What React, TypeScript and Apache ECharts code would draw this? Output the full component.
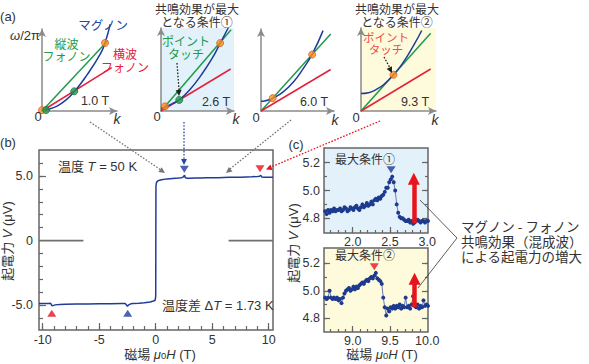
import React, { useEffect, useRef } from 'react';
import * as echarts from 'echarts';

// ---------- (a) schematic dispersions: normalized k (x) and ω/2π (y) ----------
const a1Magnon = [[0, 0.01], [0.1, 0.025], [0.2, 0.06], [0.3, 0.12], [0.43, 0.235], [0.6, 0.44], [0.78, 0.7], [0.84, 0.83], [0.91, 1.06]];
const a1Long = [[0, 0], [0.88, 0.86]];
const a1Trans = [[0, 0], [0.93, 0.53]];
const a1Orange = [[0, 0.01], [0.84, 0.83]];
const a1Green = [[0.055, 0.012], [0.43, 0.24]];

const a2Magnon = [[0, 0.03], [0.055, 0.05], [0.15, 0.085], [0.25, 0.135], [0.4, 0.263], [0.55, 0.432], [0.7, 0.634], [0.81, 0.815], [0.92, 1.0]];
const a2Long = [[0, 0], [0.96, 0.98]];
const a2Trans = [[0, 0], [0.955, 0.506]];
const a2Orange = [[0.055, 0.056], [0.81, 0.818]];
const a2Green = [[0.25, 0.133]];

const a3Magnon = [[0, 0.12], [0.05, 0.123], [0.1, 0.135], [0.16, 0.155], [0.3, 0.23], [0.45, 0.36], [0.58, 0.52], [0.7, 0.69], [0.85, 0.98]];
const a3Long = [[0, 0], [0.955, 0.94]];
const a3Trans = [[0, 0], [0.955, 0.506]];
const a3Orange = [[0.16, 0.157], [0.7, 0.688]];

const a4Magnon = [[0, 0.21], [0.1, 0.22], [0.2, 0.258], [0.3, 0.316], [0.433, 0.435], [0.55, 0.567], [0.7, 0.788], [0.81, 0.97]];
const a4Long = [[0, 0], [0.929, 0.938]];
const a4Trans = [[0, 0], [0.929, 0.506]];
const a4Orange = [[0.433, 0.437]];

// ---------- (b) voltage vs field ----------
const bField = [-10.33, -10, -9.5, -9.3, -9.2, -9.1, -8.9, -8.5, -8, -7, -6, -5, -4, -3, -2.7, -2.6, -2.5, -2.4, -2.2, -2, -1.5, -1, -0.5, -0.2, -0.05, 0, 0.02, 0.07, 0.2, 0.5, 1, 1.5, 2, 2.3, 2.45, 2.55, 2.62, 2.8, 3, 3.5, 4, 4.5, 5, 5.5, 6, 6.5, 7, 7.5, 8, 8.5, 9, 9.2, 9.3, 9.38, 9.6, 10, 10.38];
const bVoltage = [-4.86, -4.85, -4.86, -4.84, -5.0, -5.02, -4.96, -4.93, -4.92, -4.9, -4.89, -4.88, -4.87, -4.85, -4.86, -4.95, -5.08, -4.96, -4.88, -4.86, -4.84, -4.8, -4.74, -4.66, -4.6, -4.3, 4.2, 4.5, 4.62, 4.7, 4.77, 4.8, 4.83, 4.86, 4.93, 5.05, 4.85, 4.82, 4.82, 4.83, 4.84, 4.85, 4.86, 4.86, 4.88, 4.89, 4.9, 4.9, 4.92, 4.93, 4.95, 4.98, 5.05, 4.92, 4.9, 4.9, 4.89];
const bMarkDown = [[2.53, 5.52]];
const bMarkDownRed = [[9.23, 5.55]];
const bMarkUpRed = [[-9.2, -5.61]];
const bMarkUpBlue = [[-2.48, -5.61]];
const bXTicks = [-10, -9, -8, -7, -6, -5, -4, -3, -2, -1, 0, 1, 2, 3, 4, 5, 6, 7, 8, 9, 10];
const bXLabels = [-10, -5, 0, 5, 10];
const bYTicks = [-6, -5, -4, -3, -2, -1, 1, 2, 3, 4, 5, 6];
const bYLabels = [-5, 0, 5];

// ---------- (c) zoomed data ----------
const cField1 = [1.63, 1.65, 1.67, 1.69, 1.71, 1.73, 1.75, 1.77, 1.79, 1.81, 1.83, 1.85, 1.87, 1.89, 1.91, 1.93, 1.95, 1.97, 1.99, 2.01, 2.03, 2.05, 2.07, 2.09, 2.11, 2.13, 2.15, 2.17, 2.19, 2.21, 2.23, 2.25, 2.27, 2.29, 2.31, 2.33, 2.35, 2.37, 2.39, 2.41, 2.43, 2.45, 2.47, 2.49, 2.51, 2.53, 2.55, 2.57, 2.59, 2.61, 2.63, 2.65, 2.67, 2.69, 2.71, 2.73, 2.75, 2.77, 2.79, 2.81, 2.83, 2.85, 2.87, 2.89, 2.91, 2.93, 2.95, 2.97, 2.99, 3.01];
const cVolt1 = [4.85, 4.83, 4.86, 4.84, 4.86, 4.85, 4.87, 4.85, 4.86, 4.86, 4.87, 4.85, 4.86, 4.88, 4.87, 4.85, 4.86, 4.88, 4.87, 4.86, 4.88, 4.89, 4.87, 4.86, 4.88, 4.9, 4.88, 4.89, 4.91, 4.89, 4.9, 4.92, 4.9, 4.93, 4.94, 4.93, 4.95, 4.94, 4.96, 4.97, 4.99, 5.02, 5.02, 5.06, 5.08, 5.1, 5.06, 5.0, 4.9, 4.84, 4.81, 4.8, 4.8, 4.79, 4.78, 4.78, 4.79, 4.77, 4.78, 4.76, 4.77, 4.78, 4.79, 4.78, 4.77, 4.78, 4.78, 4.77, 4.78, 4.78];
const cField2 = [8.63, 8.65, 8.67, 8.69, 8.71, 8.73, 8.75, 8.77, 8.79, 8.81, 8.83, 8.85, 8.87, 8.89, 8.91, 8.93, 8.95, 8.97, 8.99, 9.01, 9.03, 9.05, 9.07, 9.09, 9.11, 9.13, 9.15, 9.17, 9.19, 9.21, 9.23, 9.25, 9.27, 9.29, 9.31, 9.33, 9.35, 9.37, 9.39, 9.41, 9.43, 9.45, 9.47, 9.49, 9.51, 9.53, 9.55, 9.57, 9.59, 9.61, 9.63, 9.65, 9.67, 9.69, 9.71, 9.73, 9.75, 9.77, 9.79, 9.81, 9.83, 9.85, 9.87, 9.89, 9.91, 9.93, 9.95, 9.97, 9.99, 10.01];
const cVolt2 = [4.95, 4.94, 4.95, 5.0, 4.95, 4.94, 4.95, 4.94, 4.95, 4.93, 4.94, 4.91, 4.95, 4.98, 5.0, 5.01, 5.02, 5.0, 5.01, 5.03, 5.01, 5.03, 5.02, 5.04, 5.05, 5.06, 5.05, 5.07, 5.08, 5.07, 5.09, 5.1, 5.09, 5.11, 5.13, 5.09, 5.08, 5.07, 5.05, 4.95, 4.88, 4.82, 4.87, 4.85, 4.88, 4.87, 4.89, 4.87, 4.89, 4.88, 4.9, 4.87, 4.89, 4.88, 4.95, 4.88, 4.89, 4.87, 4.9, 4.96, 4.89, 4.88, 4.9, 4.87, 4.89, 4.88, 4.93, 4.89, 4.9, 4.89];
const cMark1 = [[2.515, 5.15]];
const cMark2 = [[9.29, 5.175]];
const cArrow1 = [[2.82, 4.764], [2.82, 5.084]];
const cArrow2 = [[9.83, 4.88], [9.83, 5.087]];
const c1XTicks = [1.7, 1.8, 1.9, 2.0, 2.1, 2.2, 2.3, 2.4, 2.5, 2.6, 2.7, 2.8, 2.9];
const c1XLabels = [2.0, 2.5, 3.0];
const c2XTicks = [8.7, 8.8, 8.9, 9.0, 9.1, 9.2, 9.3, 9.4, 9.5, 9.6, 9.7, 9.8, 9.9];
const c2XLabels = [9.0, 9.5, 10.0];
const cYTicks = [4.8, 4.9, 5.0, 5.1, 5.2];
const cYLabels = [4.8, 5.0, 5.2];

const zip = (xs: number[], ys: number[]) => xs.map((x, i) => [x, ys[i]]);

const FONT = "'Liberation Sans', 'Noto Sans CJK JP', sans-serif";
const JP = "'Noto Sans CJK JP', sans-serif";
const AX = '#666666';
const TXT = '#333333';
const BLUE = '#1f3c98';
const GREEN = '#1f9a4c';
const RED = '#e3213a';
const ORANGE = '#f7931e';
const ARED = '#e8141c';

function subAxis(grid: number) {
  return {
    type: 'value', gridIndex: grid, min: 0, max: 1,
    axisLine: { show: true, onZero: false, symbol: ['none', 'arrow'], symbolSize: [6, 8], lineStyle: { color: '#8a8a8a', width: 1.5 } },
    axisTick: { show: false }, axisLabel: { show: false }, splitLine: { show: false },
  };
}

function tickAxis(grid: number, min: number, max: number, position: string, ticks: number[], len: number, labels?: number[], fmt?: (v: number) => string, margin?: number) {
  return {
    type: 'value', gridIndex: grid, min, max, position,
    axisLine: { show: false, onZero: false },
    splitLine: { show: false },
    axisTick: { show: true, inside: true, length: len, customValues: ticks, lineStyle: { color: AX, width: 1.2 } },
    axisLabel: labels
      ? { show: true, customValues: labels, formatter: fmt, margin: margin ?? 5, color: TXT, fontSize: 12.5, lineHeight: 12, fontFamily: FONT }
      : { show: false },
  };
}

function lineSeries(ax: number, data: number[][], color: string, smooth = false) {
  return { type: 'line', xAxisIndex: ax, yAxisIndex: ax, data, showSymbol: false, symbol: 'none', smooth, clip: false, lineStyle: { color, width: 1.5 }, z: 3 };
}
function dotSeries(ax: number, data: number[][], fill: string, border: string) {
  return { type: 'scatter', xAxisIndex: ax, yAxisIndex: ax, data, symbol: 'circle', symbolSize: 7, clip: false, itemStyle: { color: fill, borderColor: border, borderWidth: 1 }, z: 5 };
}

const rich = (size: number, color = TXT) => ({
  i: { fontStyle: 'italic', fontSize: size, fontFamily: FONT, fill: color },
  s: { fontSize: size * 0.72, fontFamily: FONT, fill: color, verticalAlign: 'bottom' },
});

function txt(x: number, y: number, text: string, o: any = {}) {
  const size = o.size || 13;
  return {
    type: 'text', x, y, rotation: o.rot || 0, silent: true, z: 10,
    style: {
      text, fill: o.color || TXT, fontSize: size, fontFamily: o.family || FONT,
      lineHeight: o.rich ? undefined : (o.lh || size),
      fontStyle: o.italic ? 'italic' : 'normal', align: o.align || 'center', verticalAlign: 'middle',
      rich: o.rich,
    },
  };
}
function dotted(x1: number, y1: number, x2: number, y2: number, color: string) {
  return { type: 'line', silent: true, z: 9, shape: { x1, y1, x2, y2 }, style: { stroke: color, lineWidth: 1.3, lineDash: [1.6, 1.6] } };
}
function head(sx: number, sy: number, tx: number, ty: number, color: string, len = 6, hw = 3) {
  const dx = tx - sx, dy = ty - sy;
  const d = Math.hypot(dx, dy);
  const ux = dx / d, uy = dy / d;
  const bx = tx - ux * len, by = ty - uy * len;
  return { type: 'polygon', silent: true, z: 9, shape: { points: [[tx, ty], [bx - uy * hw, by + ux * hw], [bx + uy * hw, by - ux * hw]] }, style: { fill: color } };
}

export default function App() {
  const ref = useRef<HTMLDivElement>(null);
  useEffect(() => {
    if (!ref.current) return;
    const chart = echarts.init(ref.current, undefined, { renderer: 'svg' });
    const fmt1 = (v: number) => (Math.abs(v) < 1e-9 ? '0' : v.toFixed(1));
    const fmt0 = (v: number) => String(Math.round(v));
    const fmtF = (v: number) => v.toFixed(1);

    const option: any = {
      animation: false,
      textStyle: { fontFamily: FONT },
      grid: [
        { left: 42, top: 29, width: 75, height: 82 },
        { left: 161, top: 28, width: 73, height: 83, show: true, backgroundColor: '#e3f1fb', borderWidth: 0 },
        { left: 261, top: 29, width: 73, height: 82 },
        { left: 361, top: 28, width: 75, height: 83, show: true, backgroundColor: '#fefadc', borderWidth: 0 },
        { left: 39, top: 150, width: 234, height: 180, show: true, borderColor: AX, borderWidth: 1.5, backgroundColor: 'transparent' },
        { left: 324, top: 148, width: 104, height: 85, show: true, borderColor: AX, borderWidth: 1.5, backgroundColor: '#e3f1fb' },
        { left: 324, top: 248, width: 104, height: 84, show: true, borderColor: AX, borderWidth: 1.5, backgroundColor: '#fefadc' },
      ],
      xAxis: [
        subAxis(0), subAxis(1), subAxis(2), subAxis(3),
        tickAxis(4, -10.33, 10.38, 'bottom', bXTicks, 4, bXLabels, fmt0, 4),
        tickAxis(4, -10.33, 10.38, 'bottom', bXLabels, 7),
        tickAxis(5, 1.615, 3.01, 'bottom', c1XTicks, 3, c1XLabels, fmtF, 3),
        tickAxis(5, 1.615, 3.01, 'bottom', [2.0, 2.5], 6),
        tickAxis(6, 8.615, 10.01, 'bottom', c2XTicks, 3, c2XLabels, fmtF, 3),
        tickAxis(6, 8.615, 10.01, 'bottom', [9.0, 9.5], 6),
      ],
      yAxis: [
        subAxis(0), subAxis(1), subAxis(2), subAxis(3),
        tickAxis(4, -6.9, 7.0, 'left', bYTicks, 4, bYLabels, fmt1, 6),
        tickAxis(4, -6.9, 7.0, 'left', [-5, 5], 7),
        tickAxis(5, 4.694, 5.306, 'left', cYTicks, 3, cYLabels, fmtF, 4),
        tickAxis(5, 4.694, 5.306, 'left', cYLabels, 6),
        tickAxis(5, 4.694, 5.306, 'right', cYTicks, 3),
        tickAxis(5, 4.694, 5.306, 'right', cYLabels, 6),
        tickAxis(6, 4.70, 5.311, 'left', cYTicks, 3, cYLabels, fmtF, 4),
        tickAxis(6, 4.70, 5.311, 'left', cYLabels, 6),
        tickAxis(6, 4.70, 5.311, 'right', cYTicks, 3),
        tickAxis(6, 4.70, 5.311, 'right', cYLabels, 6),
      ],
      series: [
        lineSeries(0, a1Long, GREEN), lineSeries(0, a1Trans, RED), lineSeries(0, a1Magnon, BLUE, true),
        dotSeries(0, a1Orange, ORANGE, '#e2582a'), dotSeries(0, a1Green, GREEN, '#137a38'),
        lineSeries(1, a2Long, GREEN), lineSeries(1, a2Trans, RED), lineSeries(1, a2Magnon, BLUE, true),
        dotSeries(1, a2Orange, ORANGE, '#e2582a'), dotSeries(1, a2Green, GREEN, '#137a38'),
        lineSeries(2, a3Long, GREEN), lineSeries(2, a3Trans, RED), lineSeries(2, a3Magnon, BLUE, true),
        dotSeries(2, a3Orange, ORANGE, '#e2582a'),
        lineSeries(3, a4Long, GREEN), lineSeries(3, a4Trans, RED), lineSeries(3, a4Magnon, BLUE, true),
        dotSeries(3, a4Orange, ORANGE, '#e2582a'),
        // (b)
        { type: 'line', xAxisIndex: 4, yAxisIndex: 4, data: [[-10.33, 0], [-6.4, 0]], symbol: 'none', lineStyle: { color: '#6e6e6e', width: 1.8 } },
        { type: 'line', xAxisIndex: 4, yAxisIndex: 4, data: [[6.45, 0], [10.38, 0]], symbol: 'none', lineStyle: { color: '#6e6e6e', width: 1.8 } },
        { type: 'line', xAxisIndex: 4, yAxisIndex: 4, data: zip(bField, bVoltage), symbol: 'none', lineStyle: { color: BLUE, width: 1.5 }, z: 4 },
        { type: 'scatter', xAxisIndex: 4, yAxisIndex: 4, data: bMarkDown, symbol: 'triangle', symbolRotate: 180, symbolSize: [9, 7], itemStyle: { color: BLUE }, z: 6 },
        { type: 'scatter', xAxisIndex: 4, yAxisIndex: 4, data: bMarkDownRed, symbol: 'triangle', symbolRotate: 180, symbolSize: [9, 7], itemStyle: { color: ARED }, z: 6 },
        { type: 'scatter', xAxisIndex: 4, yAxisIndex: 4, data: bMarkUpRed, symbol: 'triangle', symbolSize: [9, 7], itemStyle: { color: ARED }, z: 6 },
        { type: 'scatter', xAxisIndex: 4, yAxisIndex: 4, data: bMarkUpBlue, symbol: 'triangle', symbolSize: [9, 7], itemStyle: { color: BLUE }, z: 6 },
        // (c) top
        {
          type: 'line', xAxisIndex: 6, yAxisIndex: 6, data: zip(cField1, cVolt1), symbol: 'circle', symbolSize: 4,
          itemStyle: { color: '#1d3a8e' }, lineStyle: { color: '#5a6eae', width: 0.9 }, z: 4,
          markLine: {
            silent: true, symbol: ['none', 'triangle'], symbolSize: 12, label: { show: false },
            lineStyle: { color: ARED, width: 4.5, type: 'solid' },
            data: [[{ coord: cArrow1[0] }, { coord: cArrow1[1] }]],
          },
        },
        { type: 'scatter', xAxisIndex: 6, yAxisIndex: 6, data: cMark1, symbol: 'triangle', symbolRotate: 180, symbolSize: [9, 7], itemStyle: { color: BLUE }, z: 6 },
        // (c) bottom
        {
          type: 'line', xAxisIndex: 8, yAxisIndex: 10, data: zip(cField2, cVolt2), symbol: 'circle', symbolSize: 4,
          itemStyle: { color: '#1d3a8e' }, lineStyle: { color: '#5a6eae', width: 0.9 }, z: 4,
          markLine: {
            silent: true, symbol: ['none', 'triangle'], symbolSize: 12, label: { show: false },
            lineStyle: { color: ARED, width: 4.5, type: 'solid' },
            data: [[{ coord: cArrow2[0] }, { coord: cArrow2[1] }]],
          },
        },
        { type: 'scatter', xAxisIndex: 8, yAxisIndex: 10, data: cMark2, symbol: 'triangle', symbolRotate: 180, symbolSize: [9, 7], itemStyle: { color: ARED }, z: 6 },
      ],
      graphic: [
        txt(8, 16, '(a)'),
        txt(197, 15, '共鳴効果が最大\nとなる条件①', { size: 12, lh: 12.5, family: JP }),
        txt(397, 15, '共鳴効果が最大\nとなる条件②', { size: 12, lh: 12.5, family: JP }),
        txt(103, 24, 'マグノン', { size: 12.5, family: JP, color: '#2447a6' }),
        txt(66.5, 49.5, '縦波\nフォノン', { size: 12, lh: 12.5, family: JP, color: GREEN }),
        txt(125, 60, '横波\nフォノン', { size: 12, lh: 12.5, family: JP, color: RED }),
        txt(25, 35, '{i|ω}/2π', { size: 13, rich: rich(13) }),
        txt(95, 101, '1.0 T', { size: 12.5 }),
        txt(216, 102, '2.6 T', { size: 12.5 }),
        txt(314, 102, '6.0 T', { size: 12.5 }),
        txt(415, 102, '9.3 T', { size: 12.5 }),
        txt(38, 116, '0'), txt(157, 116, '0'), txt(256, 117, '0'), txt(356, 117, '0'),
        txt(117, 119, 'k', { italic: true, size: 14 }), txt(236, 119, 'k', { italic: true, size: 14 }),
        txt(335, 120, 'k', { italic: true, size: 14 }), txt(435, 120, 'k', { italic: true, size: 14 }),
        txt(186, 47, 'ポイント\nタッチ', { size: 12, lh: 13.5, family: JP, color: GREEN }),
        txt(386, 42.5, 'ポイント\nタッチ', { size: 11.5, lh: 12, family: JP, color: '#f04a4a' }),
        dotted(177, 63, 179, 90, '#222'), head(177, 63, 179, 96, '#222'),
        dotted(384, 57, 390, 68, '#222'), head(384, 57, 392, 73, '#222'),
        // connectors (a) -> (b)
        dotted(90, 122, 161, 170, '#777'), head(90, 122, 165, 173, '#777'),
        dotted(291, 120, 230, 169, '#777'), head(291, 120, 226, 173, '#777'),
        dotted(184, 122, 184, 160, '#2447a6'), head(184, 122, 184, 165, '#2447a6'),
        dotted(380, 121, 271, 167, ARED), head(380, 121, 266, 169.5, ARED),
        // panel labels and texts
        txt(8, 142, '(b)'),
        txt(296, 144, '(c)'),
        txt(58, 166.5, '温度 {i|T} = 50 K', { align: 'left', rich: rich(13) }),
        txt(162, 305, '温度差 Δ{i|T} = 1.73 K', { align: 'left', rich: rich(13) }),
        txt(7, 241, '起電力 {i|V} (μV)', { rot: Math.PI / 2, rich: rich(13) }),
        txt(160, 354, '磁場 {i|μ}{s|0}{i|H} (T)', { rich: rich(13) }),
        txt(293, 243, '起電力 {i|V} (μV)', { rot: Math.PI / 2, rich: rich(13) }),
        txt(382, 354, '磁場 {i|μ}{s|0}{i|H} (T)', { rich: rich(13) }),
        txt(335, 158, '最大条件①', { align: 'left', size: 12, family: JP }),
        txt(335, 254, '最大条件②', { align: 'left', size: 12, family: JP }),
        { type: 'polyline', silent: true, z: 9, shape: { points: [[420, 200], [457, 238], [418, 288]] }, style: { stroke: '#333', lineWidth: 0.8, fill: null } },
        txt(461, 241, 'マグノン - フォノン\n共鳴効果（混成波）\nによる起電力の増大', { align: 'left', size: 13.5, lh: 15, family: JP }),
      ],
    };
    chart.setOption(option);
    return () => chart.dispose();
  }, []);
  return <div ref={ref} style={{ position: 'absolute', left: 0, top: 0, width: 589, height: 364 }} />;
}
